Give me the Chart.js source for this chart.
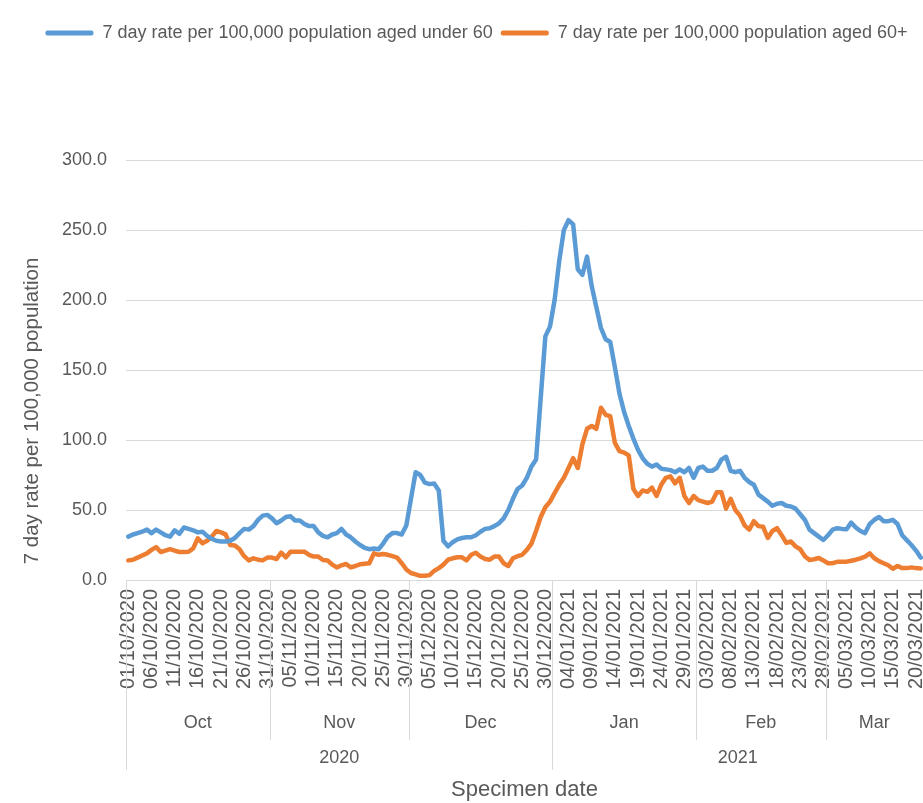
<!DOCTYPE html>
<html>
<head>
<meta charset="utf-8">
<script src="https://cdn.jsdelivr.net/npm/chart.js@4.4.1/dist/chart.umd.min.js"></script>
<style>
html,body{margin:0;padding:0;background:#ffffff;}
#wrap{width:923px;height:803px;position:relative;}
</style>
</head>
<body>
<div id="wrap"><canvas id="c" width="923" height="803"></canvas></div>
<script>
// ---- data ----
const monthNames = ['Oct', 'Nov', 'Dec', 'Jan', 'Feb', 'Mar'];
const monthNums = ['10', '11', '12', '01', '02', '03'];
const monthYears = ['2020', '2020', '2020', '2021', '2021', '2021'];
const monthDays = [31, 30, 31, 31, 28, 21];
const yearNames = ['2020', '2021'];
const seriesNames = ['7 day rate per 100,000 population aged under 60', '7 day rate per 100,000 population aged 60+'];
const xTitle = 'Specimen date';
const yTitle = '7 day rate per 100,000 population';
const yTickValues = [0, 50, 100, 150, 200, 250, 300];

const under60 = [
  31, 32.5, 33.5, 34.5, 36, 33.5, 36, 34, 32, 31,
  35.5, 33, 37.5, 36.5, 35.5, 34, 34.5, 31.5, 29.5, 28,
  27.5, 27.5, 28, 30, 33.5, 36.5, 36, 38.5, 43, 46,
  46.5, 44, 40.5, 42.5, 45, 45.5, 42.5, 42.5, 40, 38.5,
  38.5, 34, 31.5, 30.5, 32.5, 33.5, 36.5, 32.5, 30.5, 27.5,
  25, 23, 22, 22.5, 22, 26, 31, 33.5, 33.5, 32.5,
  39, 58, 77, 75, 69.5, 68.5, 69, 64, 28, 24,
  27, 29, 30, 30.5, 30.5, 32, 34.5, 36.5, 37, 38.5,
  40.5, 44, 50, 58, 65, 67.5, 73, 81, 86, 130,
  174, 181, 200, 228, 250, 257, 254, 222, 218, 231,
  210, 195, 180, 172, 170, 152, 133, 120, 110, 101,
  93, 87, 83, 81, 82.5, 79.5, 79, 78.5, 77, 79,
  77, 80, 73, 80, 81, 78, 78, 80, 86, 88,
  78, 77, 78, 73, 70, 68, 61, 58.5, 56, 53,
  54.5, 55, 53, 52.5, 51, 47, 43, 36, 33.5, 31,
  28.6, 32, 36, 37, 36.5, 36.3, 41, 37.5, 35, 33.5,
  40, 43, 45, 42, 42, 43, 40, 32, 28.5, 25,
  21, 16
];
const aged60plus = [
  14, 14.5, 16, 17.5, 19, 21.5, 23.5, 20, 21, 22,
  21, 20, 20, 20.2, 22.6, 29.8, 26.2, 28, 31, 35,
  34, 32.6, 25, 24.7, 22, 17, 14, 15.5, 14.5, 14,
  16, 16, 15, 19.5, 16.2, 20.2, 20.2, 20.2, 20.2, 18,
  16.7, 16.7, 14.3, 14, 11, 9, 10.5, 11.4, 9, 10,
  11.2, 11.6, 12, 19, 18, 18.6, 18, 17, 16, 12,
  7.5, 5, 4, 3, 3, 3.5, 6.5, 8.5, 11, 14.5,
  15.5, 16.2, 16.2, 14, 18, 19.5, 16.7, 15, 14.5, 16.7,
  16.7, 12, 10, 15.5, 17, 18, 21.5, 26, 35, 45,
  52, 56, 62, 68, 73, 80, 87, 80, 97, 108,
  110, 108, 123, 118, 117, 98, 92, 91, 89, 65,
  60, 64, 63, 66, 60, 68, 73, 74, 69, 73,
  60, 55, 60, 57, 56, 55, 56, 62.6, 62.6, 51,
  58, 50, 46, 39, 36, 42, 38.5, 38, 30, 35,
  37, 32, 26.5, 27.5, 24, 22, 17, 14.3, 14.8, 15.7,
  14, 12, 12, 13, 13, 13.1, 13.8, 14.5, 15.5, 16.7,
  19, 15.5, 13.5, 12, 10.5, 8, 10, 8.5, 8.5, 9,
  8.5, 8.3
];

// category labels (dates) and month start indices
const labels = [];
const monthStart = [];
monthNames.forEach((m, k) => {
  monthStart.push(labels.length);
  for (let d = 1; d <= monthDays[k]; d++) {
    labels.push(String(d).padStart(2, '0') + '/' + monthNums[k] + '/' + monthYears[k]);
  }
});

const FONT = '"Liberation Sans", Arial, sans-serif';
const TEXT = '#595959';
const GRID = '#d9d9d9';

const groupAxisPlugin = {
  id: 'groupAxis',
  afterDraw(chart) {
    const x = chart.scales.x;
    const ctx = chart.ctx;
    const area = chart.chartArea;
    const top = area.bottom;
    const n = labels.length;
    ctx.save();
    ctx.strokeStyle = GRID;
    ctx.lineWidth = 1;
    monthStart.forEach((s, k) => {
      const isYear = k === 0 || monthYears[k] !== monthYears[k - 1];
      const px = Math.round(x.getPixelForValue(s - 0.5)) + 0.5;
      ctx.beginPath();
      ctx.moveTo(px, top);
      ctx.lineTo(px, isYear ? 770 : 740);
      ctx.stroke();
    });
    ctx.fillStyle = TEXT;
    ctx.textAlign = 'center';
    ctx.textBaseline = 'middle';
    ctx.font = '18px ' + FONT;
    monthNames.forEach((m, k) => {
      const a = x.getPixelForValue(monthStart[k] - 0.5);
      const endIdx = k < monthNames.length - 1 ? monthStart[k + 1] : n;
      const b = x.getPixelForValue(endIdx - 0.5);
      ctx.fillText(m, (a + b) / 2, 723);
    });
    yearNames.forEach((yr) => {
      const first = monthYears.indexOf(yr);
      const last = monthYears.lastIndexOf(yr);
      const a = x.getPixelForValue(monthStart[first] - 0.5);
      const endIdx = last < monthNames.length - 1 ? monthStart[last + 1] : n;
      const b = x.getPixelForValue(endIdx - 0.5);
      ctx.fillText(yr, (a + b) / 2, 758);
    });
    // y axis title
    ctx.font = '20.5px ' + FONT;
    ctx.translate(32, 411);
    ctx.rotate(-Math.PI / 2);
    ctx.fillText(yTitle, 0, 0);
    ctx.restore();
  }
};

const ctx = document.getElementById('c').getContext('2d');
new Chart(ctx, {
  type: 'line',
  data: {
    labels: labels,
    datasets: [
      { label: seriesNames[0], data: under60, borderColor: '#5B9BD5', backgroundColor: '#5B9BD5',
        borderWidth: 4.5, pointRadius: 0, tension: 0, borderJoinStyle: 'round', borderCapStyle: 'round' },
      { label: seriesNames[1], data: aged60plus, borderColor: '#ED7D31', backgroundColor: '#ED7D31',
        borderWidth: 4.5, pointRadius: 0, tension: 0, borderJoinStyle: 'round', borderCapStyle: 'round' }
    ]
  },
  options: {
    responsive: false,
    animation: false,
    devicePixelRatio: 1,
    layout: { padding: { top: 16, left: 30, right: 0, bottom: 0 } },
    plugins: {
      legend: {
        position: 'top',
        align: 'center',
        labels: {
          boxWidth: 48, boxHeight: 5, padding: 8, color: TEXT,
          useBorderRadius: true, borderRadius: 2,
          font: { size: 18, family: FONT },
          generateLabels(chart) {
            const items = Chart.defaults.plugins.legend.labels.generateLabels(chart);
            items.forEach(it => { it.lineWidth = 0; });
            return items;
          }
        }
      },
      title: {
        display: true, text: '', weight: 500,
        font: { size: 10, lineHeight: 1 },
        padding: { top: 0, bottom: 98 }
      },
      tooltip: { enabled: false }
    },
    scales: {
      x: {
        type: 'category',
        offset: true,
        grid: { display: false, drawTicks: true, tickLength: 9 },
        border: { display: true, color: GRID, width: 1 },
        ticks: {
          autoSkip: false, maxRotation: 90, minRotation: 90, padding: 0,
          color: TEXT, font: { size: 20, family: FONT },
          callback(value, index) { return index % 5 === 0 ? labels[index] : ''; }
        },
        title: { display: true, text: xTitle, color: TEXT, font: { size: 22, family: FONT }, padding: 0 },
        afterFit(scale) { scale.height = 223; scale.paddingLeft = 0; scale.paddingRight = 0; }
      },
      y: {
        min: 0, max: 300,
        grid: { color: GRID, lineWidth: 1, drawTicks: false },
        border: { display: false },
        ticks: {
          stepSize: 50, padding: 19, color: TEXT, font: { size: 18, family: FONT },
          callback(value) { return yTickValues.includes(value) ? value.toFixed(1) : ''; }
        },
        afterFit(scale) { scale.width = 96; }
      }
    }
  },
  plugins: [groupAxisPlugin]
});
</script>
</body>
</html>
